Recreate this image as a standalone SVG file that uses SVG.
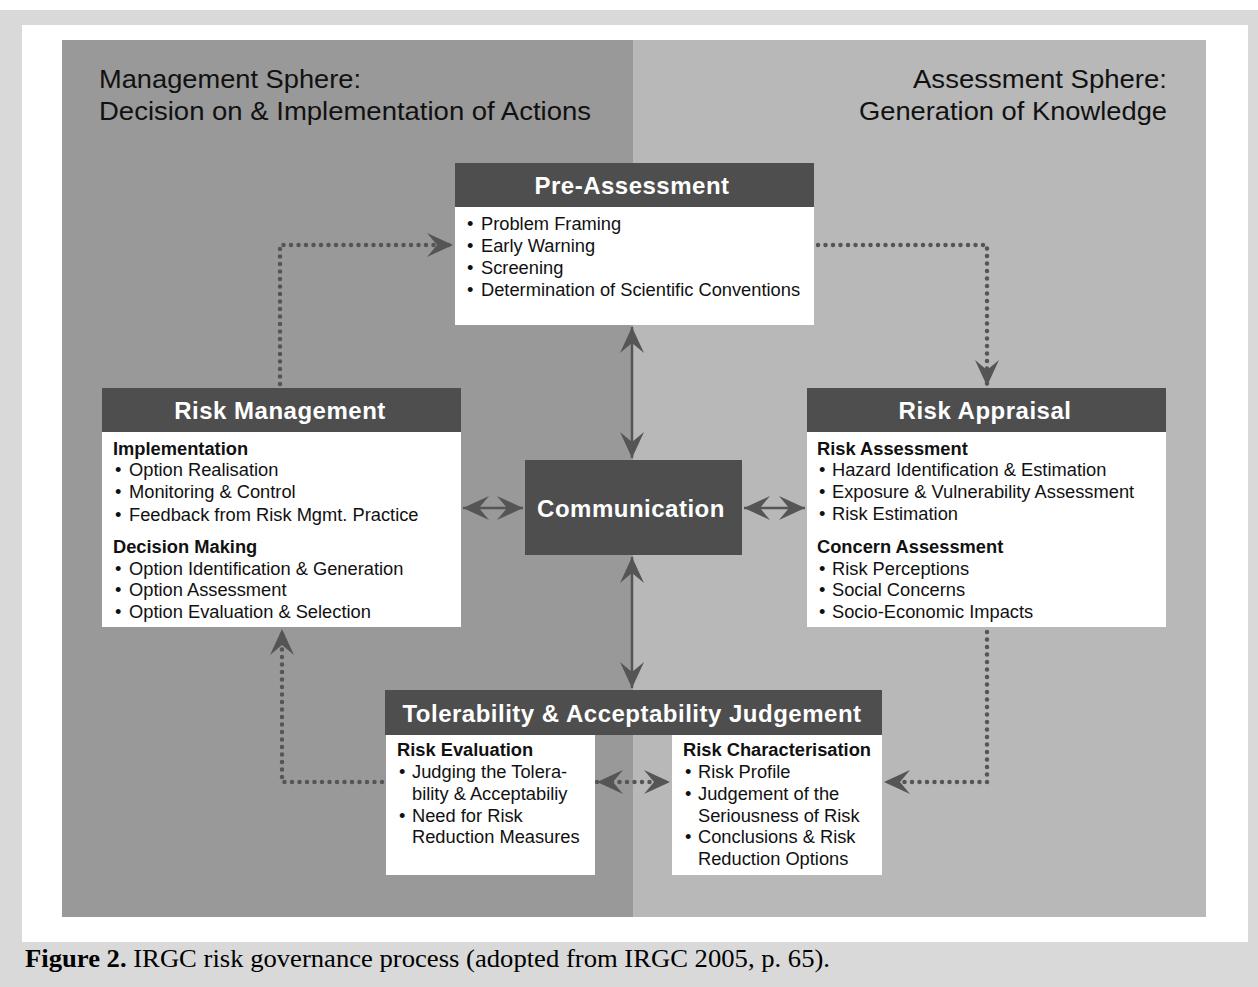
<svg xmlns="http://www.w3.org/2000/svg" width="1258" height="987" viewBox="0 0 1258 987">
<defs>
<style>
.hd{font-family:"Liberation Sans",Arial,sans-serif;font-weight:bold;fill:#fff;text-anchor:middle;letter-spacing:0.5px}
.tx{font-family:"Liberation Sans",Arial,sans-serif;font-size:18.3px;fill:#111}
.bt{font-family:"Liberation Sans",Arial,sans-serif;font-size:18.3px;font-weight:bold;fill:#111}
.sp{font-family:"Liberation Sans",Arial,sans-serif;font-size:26px;fill:#111}
.hdr{fill:#4e4e4e}
.body{fill:#fff}
.sol{fill:none;stroke:#555;stroke-width:2.5}
.dot{fill:none;stroke:#555;stroke-width:4.5;stroke-linecap:round;stroke-dasharray:0 7.5}
</style>
<marker id="ah" viewBox="0 0 26 24" markerWidth="26" markerHeight="24" refX="26" refY="12" orient="auto-start-reverse" markerUnits="userSpaceOnUse">
<path d="M0,0 L26,12 L0,24 L10,12 z" fill="#555"/>
</marker>
</defs>
<rect x="0" y="0" width="1258" height="987" fill="#fff"/>
<rect x="0" y="10" width="1258" height="977" fill="#d9d9d9"/>
<rect x="22" y="25" width="1226" height="917" fill="#fff"/>
<rect x="62" y="40" width="571" height="877" fill="#999"/>
<rect x="633" y="40" width="573" height="877" fill="#b8b8b8"/>
<g id="spheres">
<text class="sp" x="99" y="88" textLength="262" lengthAdjust="spacingAndGlyphs">Management Sphere:</text>
<text class="sp" x="99" y="120" textLength="492" lengthAdjust="spacingAndGlyphs">Decision on &amp; Implementation of Actions</text>
<text class="sp" x="913" y="88" textLength="254" lengthAdjust="spacingAndGlyphs">Assessment Sphere:</text>
<text class="sp" x="859" y="120" textLength="308" lengthAdjust="spacingAndGlyphs">Generation of Knowledge</text>
</g>
<g id="connectors">
<path class="sol" d="M632,327 V458" marker-start="url(#ah)" marker-end="url(#ah)"/>
<path class="sol" d="M632,557 V688" marker-start="url(#ah)" marker-end="url(#ah)"/>
<path class="sol" d="M463,508 H523" marker-start="url(#ah)" marker-end="url(#ah)"/>
<path class="sol" d="M744,508 H805" marker-start="url(#ah)" marker-end="url(#ah)"/>
<path class="dot" d="M280,384 V245 H453" marker-end="url(#ah)"/>
<path class="dot" d="M818,245 H987 V386" marker-end="url(#ah)"/>
<path class="dot" d="M987,632 V782 H884" marker-end="url(#ah)"/>
<path class="dot" d="M597,782 H670" marker-start="url(#ah)" marker-end="url(#ah)"/>
<path class="dot" d="M382,782 H282 V629" marker-end="url(#ah)"/>
</g>
<g id="pre-assessment">
<rect class="hdr" x="455" y="163" width="359" height="44"/>
<rect class="body" x="455" y="207" width="359" height="118"/>
<text class="hd" x="632" y="194" font-size="24">Pre-Assessment</text>
<text class="tx" x="467" y="230">•</text><text class="tx" x="481" y="230">Problem Framing</text>
<text class="tx" x="467" y="252">•</text><text class="tx" x="481" y="252">Early Warning</text>
<text class="tx" x="467" y="274">•</text><text class="tx" x="481" y="274">Screening</text>
<text class="tx" x="467" y="296">•</text><text class="tx" x="481" y="296">Determination of Scientific Conventions</text>
</g>
<g id="risk-management">
<rect class="hdr" x="102" y="388" width="359" height="44"/>
<rect class="body" x="102" y="432" width="359" height="195"/>
<text class="hd" x="280" y="419" font-size="24">Risk Management</text>
<text class="bt" x="113" y="455">Implementation</text>
<text class="tx" x="115" y="476">•</text><text class="tx" x="129" y="476">Option Realisation</text>
<text class="tx" x="115" y="498">•</text><text class="tx" x="129" y="498">Monitoring &amp; Control</text>
<text class="tx" x="115" y="521">•</text><text class="tx" x="129" y="521">Feedback from Risk Mgmt. Practice</text>
<text class="bt" x="113" y="553">Decision Making</text>
<text class="tx" x="115" y="575">•</text><text class="tx" x="129" y="575">Option Identification &amp; Generation</text>
<text class="tx" x="115" y="596">•</text><text class="tx" x="129" y="596">Option Assessment</text>
<text class="tx" x="115" y="618">•</text><text class="tx" x="129" y="618">Option Evaluation &amp; Selection</text>
</g>
<g id="risk-appraisal">
<rect class="hdr" x="807" y="388" width="359" height="44"/>
<rect class="body" x="807" y="432" width="359" height="195"/>
<text class="hd" x="985" y="419" font-size="24">Risk Appraisal</text>
<text class="bt" x="817" y="455">Risk Assessment</text>
<text class="tx" x="819" y="476">•</text><text class="tx" x="832" y="476">Hazard Identification &amp; Estimation</text>
<text class="tx" x="819" y="498">•</text><text class="tx" x="832" y="498">Exposure &amp; Vulnerability Assessment</text>
<text class="tx" x="819" y="520">•</text><text class="tx" x="832" y="520">Risk Estimation</text>
<text class="bt" x="817" y="553">Concern Assessment</text>
<text class="tx" x="819" y="575">•</text><text class="tx" x="832" y="575">Risk Perceptions</text>
<text class="tx" x="819" y="596">•</text><text class="tx" x="832" y="596">Social Concerns</text>
<text class="tx" x="819" y="618">•</text><text class="tx" x="832" y="618">Socio-Economic Impacts</text>
</g>
<g id="communication">
<rect class="hdr" x="525" y="460" width="217" height="95"/>
<text class="hd" x="631" y="517" font-size="24">Communication</text>
</g>
<g id="tolerability">
<rect class="hdr" x="385" y="690" width="497" height="45"/>
<text class="hd" x="632" y="722" font-size="24">Tolerability &amp; Acceptability Judgement</text>
<rect class="body" x="386" y="735" width="209" height="140"/>
<text class="bt" x="397" y="756">Risk Evaluation</text>
<text class="tx" x="399" y="778">•</text><text class="tx" x="412" y="778">Judging the Tolera-</text>
<text class="tx" x="412" y="800">bility &amp; Acceptabiliy</text>
<text class="tx" x="399" y="822">•</text><text class="tx" x="412" y="822">Need for Risk</text>
<text class="tx" x="412" y="843">Reduction Measures</text>
<rect class="body" x="672" y="735" width="210" height="140"/>
<text class="bt" x="683" y="756">Risk Characterisation</text>
<text class="tx" x="685" y="778">•</text><text class="tx" x="698" y="778">Risk Profile</text>
<text class="tx" x="685" y="800">•</text><text class="tx" x="698" y="800">Judgement of the</text>
<text class="tx" x="698" y="822">Seriousness of Risk</text>
<text class="tx" x="685" y="843">•</text><text class="tx" x="698" y="843">Conclusions &amp; Risk</text>
<text class="tx" x="698" y="865">Reduction Options</text>
</g>
<text x="25" y="967" font-family="'Liberation Serif','Times New Roman',serif" font-size="24.5" fill="#000" textLength="805" lengthAdjust="spacingAndGlyphs"><tspan font-weight="bold">Figure 2.</tspan> IRGC risk governance process (adopted from IRGC 2005, p. 65).</text>
</svg>
